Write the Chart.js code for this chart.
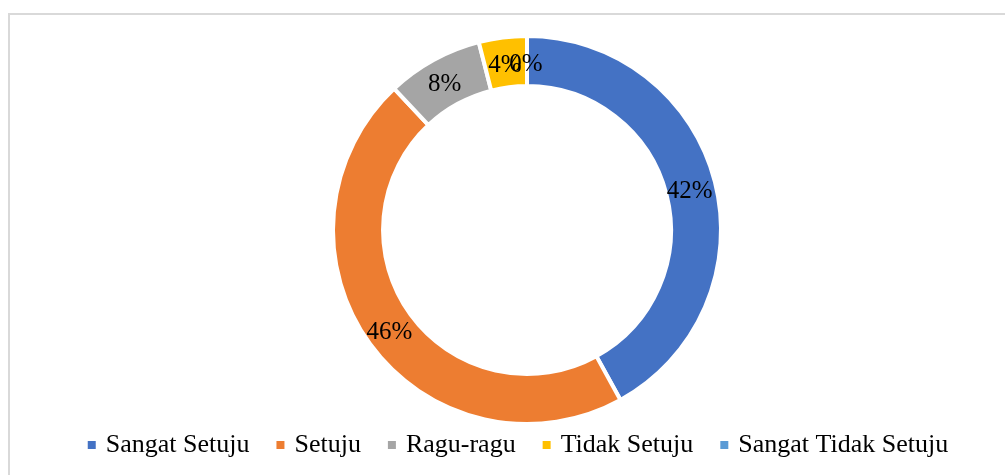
<!DOCTYPE html>
<html>
<head>
<meta charset="utf-8">
<script src="https://cdn.jsdelivr.net/npm/chart.js@4/dist/chart.umd.min.js"></script>
<style>
  body { margin: 0; width: 1005px; height: 475px; overflow: hidden; background: #fff; position: relative; }
  #frame { position: absolute; left: 8px; top: 13px; width: 1100px; height: 500px; border-top: 2px solid #d9d9d9; border-left: 2px solid #d9d9d9; }
  #chart { position: absolute; left: 0; top: 0; }
</style>
</head>
<body>
<div id="frame"></div>
<canvas id="chart" width="1039" height="468"></canvas>
<script>
// Chart data
const categories = ['Sangat Setuju', 'Setuju', 'Ragu-ragu', 'Tidak Setuju', 'Sangat Tidak Setuju']
const percentages = [42, 46, 8, 4, 0]
const sliceColors = ['#4472C4', '#ED7D31', '#A5A5A5', '#FFC000', '#5B9BD5']

// Draws the "42%" style labels in the middle of each ring segment
const sliceLabels = {
  id: 'sliceLabels',
  afterDatasetsDraw(chart) {
    const ctx = chart.ctx
    const meta = chart.getDatasetMeta(0)
    ctx.save()
    ctx.font = '25px "Liberation Serif", "Times New Roman", serif'
    ctx.fillStyle = '#000'
    ctx.textAlign = 'center'
    ctx.textBaseline = 'middle'
    meta.data.forEach((arc, i) => {
      const pos = arc.tooltipPosition()
      // text sits a touch below the segment centre, like the original
      ctx.fillText(percentages[i] + '%', pos.x - 1, pos.y + 3)
    })
    ctx.restore()
  }
}

// The ring sits a little right of the legend's centre
const shiftRing = {
  id: 'shiftRing',
  afterLayout(chart) {
    chart.chartArea.left += 15
  }
}

new Chart(document.getElementById('chart'), {
  type: 'doughnut',
  data: {
    labels: categories,
    datasets: [{
      data: percentages,
      backgroundColor: sliceColors,
      borderColor: '#fff',
      borderWidth: 4,
      clip: false
    }]
  },
  options: {
    responsive: false,
    animation: false,
    radius: 194,
    cutout: '74.2%',
    layout: { padding: { top: 58 } },
    plugins: {
      tooltip: { enabled: false },
      legend: {
        position: 'bottom',
        labels: {
          usePointStyle: true,
          boxWidth: 2,
          boxHeight: 8,
          padding: 30,
          color: '#000',
          font: { family: '"Liberation Serif", "Times New Roman", serif', size: 26 },
          generateLabels: () => categories.map((name, i) => ({
            text: name,
            fillStyle: sliceColors[i],
            strokeStyle: 'transparent',
            lineWidth: 0,
            pointStyle: 'rect',
            index: i
          }))
        }
      }
    }
  },
  plugins: [sliceLabels, shiftRing]
})
</script>
</body>
</html>
